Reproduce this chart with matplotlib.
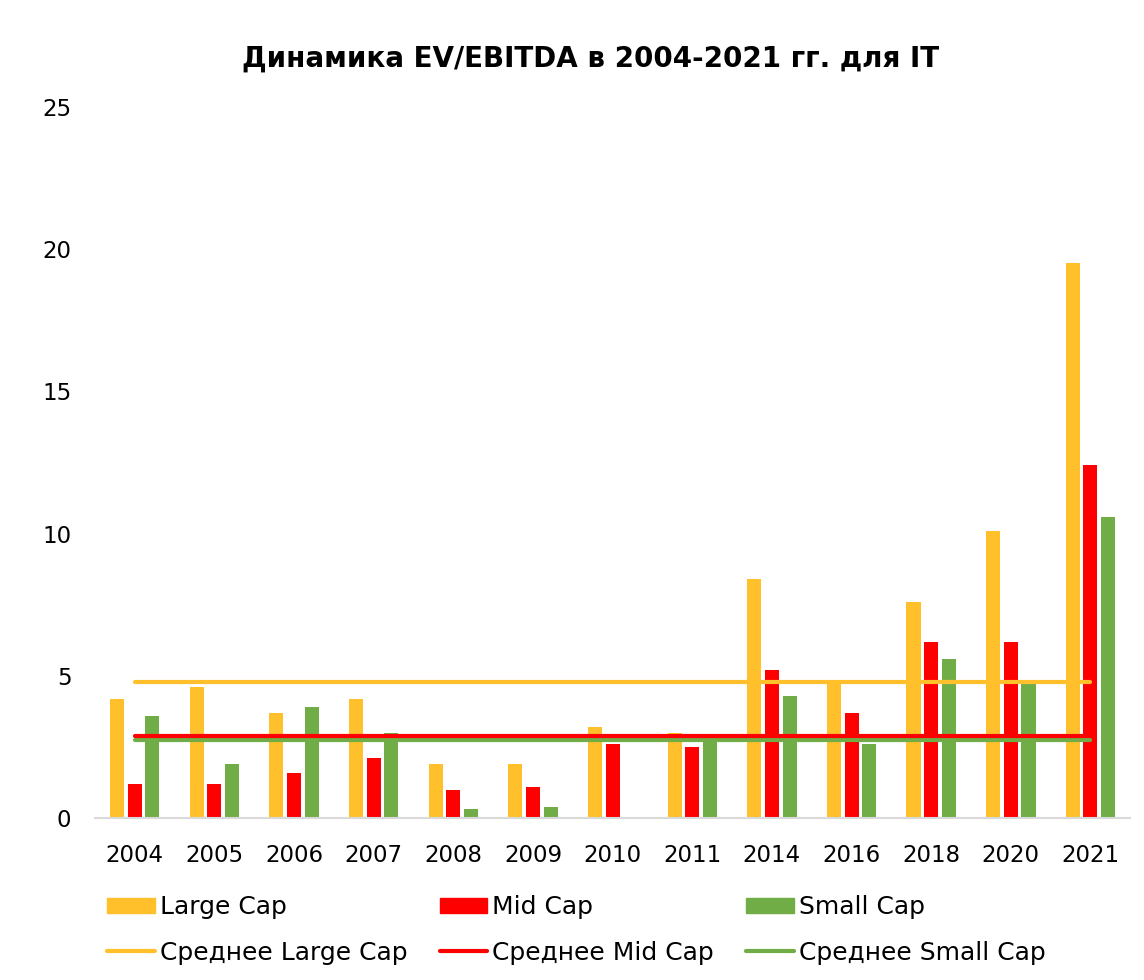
import matplotlib.pyplot as plt
import numpy as np
from matplotlib.patches import Patch
from matplotlib.lines import Line2D

plt.rcParams['font.family'] = ['DejaVu Sans']

# данные
years = ['2004', '2005', '2006', '2007', '2008', '2009', '2010',
         '2011', '2014', '2016', '2018', '2020', '2021']
large_cap = [4.2, 4.6, 3.7, 4.2, 1.9, 1.9, 3.2, 3.0, 8.4, 4.8, 7.6, 10.1, 19.5]
mid_cap = [1.2, 1.2, 1.6, 2.1, 1.0, 1.1, 2.6, 2.5, 5.2, 3.7, 6.2, 6.2, 12.4]
small_cap = [3.6, 1.9, 3.9, 3.0, 0.3, 0.4, 0.0, 2.8, 4.3, 2.6, 5.6, 4.8, 10.6]
mean_large = 4.78
mean_mid = 2.9
mean_small = 2.74

c_large = '#FFC02B'
c_mid = '#FF0000'
c_small = '#70AD47'


def main():
    fig = plt.figure(figsize=(11.44, 9.8), dpi=100)
    ax = fig.add_axes([0.083, 0.1653, 0.905, 0.7255])

    x = np.arange(len(years))
    w = 0.176
    off = 0.222
    ax.bar(x - off, large_cap, w, color=c_large, zorder=2)
    ax.bar(x, mid_cap, w, color=c_mid, zorder=2)
    ax.bar(x + off, small_cap, w, color=c_small, zorder=2)

    ax.plot(x, [mean_large] * len(x), color=c_large, lw=3, solid_capstyle='round', zorder=3)
    ax.plot(x, [mean_small] * len(x), color=c_small, lw=3, solid_capstyle='round', zorder=3)
    ax.plot(x, [mean_mid] * len(x), color=c_mid, lw=3, solid_capstyle='round', zorder=4)

    ax.set_xlim(-0.5, len(years) - 0.5)
    ax.set_ylim(0, 25)
    ax.set_yticks([0, 5, 10, 15, 20, 25])
    ax.set_xticks(x)
    ax.set_xticklabels(years)
    ax.tick_params(axis='both', length=0, labelsize=16.5)
    ax.tick_params(axis='x', pad=19)
    ax.tick_params(axis='y', pad=17)
    for s in ['top', 'right', 'left']:
        ax.spines[s].set_visible(False)
    ax.spines['bottom'].set_color('#D9D9D9')
    ax.spines['bottom'].set_linewidth(1.5)

    fig.text(0.516, 0.94, 'Динамика EV/EBITDA в 2004-2021 гг. для IT',
             ha='center', va='center', fontsize=20, fontweight='bold')

    handles = [
        Patch(color=c_large), Line2D([], [], color=c_large, lw=3, solid_capstyle='round'),
        Patch(color=c_mid), Line2D([], [], color=c_mid, lw=3, solid_capstyle='round'),
        Patch(color=c_small), Line2D([], [], color=c_small, lw=3, solid_capstyle='round'),
    ]
    labels = ['Large Cap', 'Среднее Large Cap', 'Mid Cap', 'Среднее Mid Cap',
              'Small Cap', 'Среднее Small Cap']
    fig.legend(handles, labels, ncol=3, loc='lower left',
               bbox_to_anchor=(0.087, 0.008), frameon=False, fontsize=18,
               handlelength=1.9, handleheight=0.56, handletextpad=0.2,
               columnspacing=1.3, labelspacing=0.85, borderaxespad=0.0,
               borderpad=0.3)

    fig.savefig('out.png', dpi=100)


if __name__ == "__main__":
    main()
